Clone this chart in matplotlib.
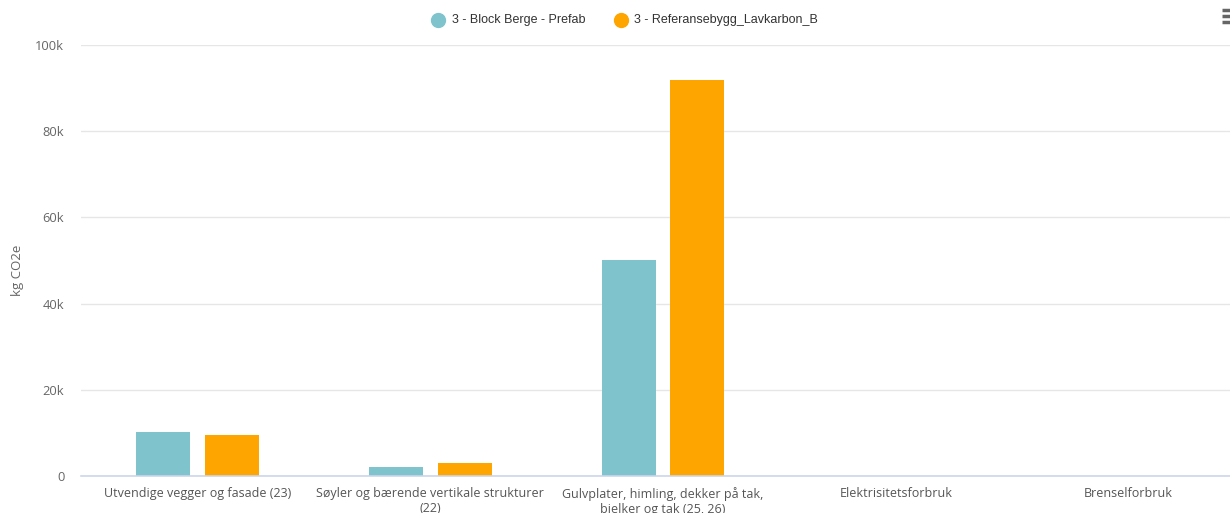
import matplotlib
matplotlib.use("Agg")
import matplotlib.pyplot as plt
import numpy as np
from matplotlib.lines import Line2D

categories = [
    "Utvendige vegger og fasade (23)",
    "Søyler og bærende vertikale strukturer\n(22)",
    "Gulvplater, himling, dekker på tak,\nbjelker og tak (25, 26)",
    "Elektrisitetsforbruk",
    "Brenselforbruk",
]
series_names = ["3 - Block Berge - Prefab", "3 - Referansebygg_Lavkarbon_B"]
block_berge = [10200, 2000, 50100, 0, 0]
referanse = [9500, 2950, 91900, 0, 60]
yticks = [0, 20000, 40000, 60000, 80000, 100000]
ytick_labels = ["0", "20k", "40k", "60k", "80k", "100k"]

teal = "#7fc4cc"
orange = "#ffa500"
colors = [teal, orange]

W, H = 1230, 513
fig = plt.figure(figsize=(W / 100, H / 100), dpi=100)
fig.patch.set_facecolor("white")

left = 81 / W
bottom = (H - 476) / H
top = (H - 45) / H
ax = fig.add_axes([left, bottom, 1 - left, top - bottom])

x = np.arange(len(categories))
bw = 54 / 233
off = 34.5 / 233
ax.bar(x - off, block_berge, width=bw, color=teal, zorder=3, linewidth=0)
ax.bar(x + off, referanse, width=bw, color=orange, zorder=3, linewidth=0)

ax.set_xlim(-0.5, 4.5 - 15 / 233)
ax.set_ylim(0, 100000)
ax.set_yticks(yticks)
ax.set_yticklabels(ytick_labels, fontsize=9.3, color="#666666", family="Open Sans")
ax.tick_params(axis="y", length=0, pad=12)
ax.grid(axis="y", color="#e6e6e6", linewidth=1, zorder=0)
ax.set_axisbelow(True)
for s in ["top", "right", "left"]:
    ax.spines[s].set_visible(False)
ax.spines["bottom"].set_color("#ccd6eb")
ax.spines["bottom"].set_linewidth(1.2)
ax.spines["bottom"].set_zorder(4)

ax.set_xticks(x)
ax.set_xticklabels(categories, fontsize=9.0, color="#555555", family="Open Sans",
                   linespacing=1.2)
ax.tick_params(axis="x", length=0, pad=8)

fig.text(18 / W, 1 - 270 / H, "kg CO2e", rotation=90, ha="center", va="center",
         fontsize=9.5, color="#666666", family="Open Sans")

# Legend (drawn manually to match positions)
legend_marker_x = [438, 621]
legend_text_x = [452, 634]
for name, c, mx, tx in zip(series_names, colors, legend_marker_x, legend_text_x):
    fig.add_artist(Line2D([mx / W], [1 - 20 / H], marker="o", markersize=10,
                          color=c, linestyle=""))
    fig.text(tx / W, 1 - 20 / H, name, ha="left", va="center", fontsize=9.0,
             color="#333333", family="Liberation Sans")

# Menu icon
for yy in [10, 16, 22]:
    fig.add_artist(Line2D([1222 / W, 1231 / W], [1 - yy / H, 1 - yy / H],
                          color="#666666", linewidth=2.5, solid_capstyle="butt"))

fig.savefig("out.png", dpi=100, facecolor="white")
